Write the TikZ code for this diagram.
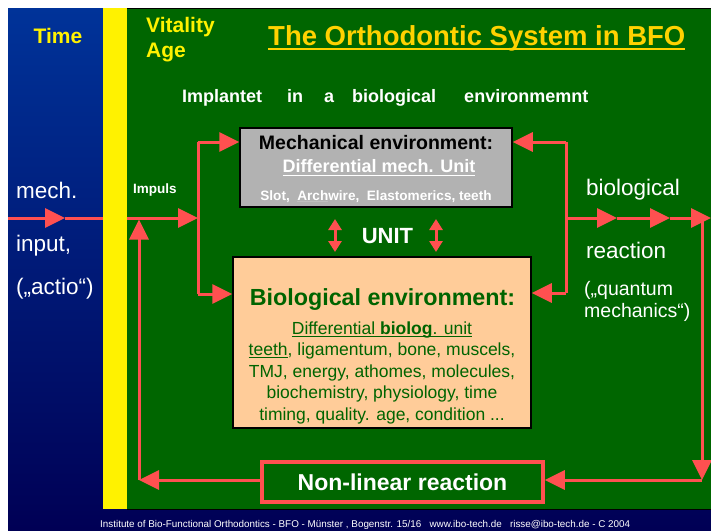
\documentclass[tikz,border=0pt]{standalone}
\usepackage{fontspec}
\setmainfont{Liberation Sans}
\usetikzlibrary{arrows.meta}
\definecolor{bgblue}{RGB}{0,51,153}
\definecolor{bgnavy}{RGB}{0,0,85}
\definecolor{bfogreen}{RGB}{0,102,0}
\definecolor{textgreen}{RGB}{0,100,0}
\definecolor{flowred}{RGB}{255,80,80}
\definecolor{mechgray}{RGB}{178,178,178}
\definecolor{biopeach}{RGB}{255,204,153}
\definecolor{titlegold}{RGB}{255,210,0}
\newcommand{\fsz}[1]{\fontsize{#1}{#1}\selectfont}
\newcommand{\ulin}[4][.]{\setbox0\hbox{#4}\rlap{\color{#1}\rule[-#2]{\wd0}{#3}}\box0}
\begin{document}
\begin{tikzpicture}[x=1pt,y=-1pt,
    flow/.style={draw=flowred,line width=3pt,-{Triangle[length=20pt,width=19pt]}},
    plain/.style={draw=flowred,line width=3pt},
    unitarrow/.style={draw=flowred,line width=3pt,{Triangle[length=11pt,width=13pt]}-{Triangle[length=11pt,width=13pt]}},
    lbl/.style={inner sep=0pt,anchor=base west,text=white},
    biotext/.style={lbl,anchor=base,text=textgreen,font=\fsz{17.5}}]
  \useasboundingbox (0,0) rectangle (711,530);
  \fill[white] (0,0) rectangle (711,530);
  \shade[top color=bgblue,bottom color=bgnavy] (8,8) rectangle (711,530);
  \fill[bfogreen] (127,8) rectangle (711,509);
  \draw[black] (127,8.5) -- (711,8.5);
  \draw[black] (127,509) -- (711,509);

  \node[lbl,text=yellow,font=\bfseries\fsz{21},anchor=base] (time) at (58,43) {Time};
  \node[lbl,text=yellow,font=\bfseries\fsz{21}] (vitality) at (146,32) {Vitality};
  \node[lbl,text=yellow,font=\bfseries\fsz{21}] (age) at (146,57) {Age};
  \node[lbl,text=titlegold,font=\bfseries\fsz{27.5}] (title) at (268,45)
    {\ulin{5.2pt}{2.3pt}{The Orthodontic System in BFO}};
  \node[lbl,font=\bfseries\fsz{18}] (implant) at (182,102)
    {Implantet\hspace{20pt} in\hspace{16pt} a\hspace{13pt} biological\hspace{23pt} environmemnt};

  \node[draw=black,line width=1.5pt,fill=mechgray,minimum width=272pt,minimum height=79pt,inner sep=0pt] (mech) at (376,167.5) {};
  \node[lbl,text=black,font=\bfseries\fsz{19.5},anchor=base] (mechtitle) at (376,149) {Mechanical environment:};
  \node[lbl,font=\bfseries\fsz{18},anchor=base] (mechunit) at (379,172.7) {\ulin{3.5pt}{1.5pt}{Differential mech. Unit}};
  \node[lbl,font=\bfseries\fsz{13.6},anchor=base] (mechparts) at (376,200)
    {Slot,\ \ \ulin[lightgray]{2pt}{1pt}{Arch}wire,\ \ Elastomerics, teeth};

  \node[lbl,font=\bfseries\fsz{22},anchor=base] (unit) at (387.5,243) {UNIT};

  \node[draw=black,line width=1.5pt,fill=biopeach,minimum width=298pt,minimum height=171pt,inner sep=0pt] (bio) at (382,342.5) {};
  \node[lbl,text=textgreen,font=\bfseries\fsz{23.3},anchor=base] (biotitle) at (382.5,305) {Biological environment:};
  \foreach \t [count=\i] in {{\ulin{3pt}{1.2pt}{Differential \textbf{biolog}. unit}},
      {\ulin{2.5pt}{1.2pt}{teeth}, ligamentum, bone, muscels,},
      {TMJ, energy, athomes, molecules,},
      {biochemistry, physiology, time},
      {timing, quality. age, condition {...}}}
    \node[biotext] (bio\i) at (382,{312.5+21.5*\i}) {\t};

  \node[draw=flowred,line width=3.5pt,fill=bfogreen,minimum width=281pt,minimum height=40pt,inner sep=0pt,
    text=white,font=\bfseries\fsz{23}] (nonlin) at (402.5,482) {Non-linear reaction};

  \node[lbl,font=\fsz{22.5}] (inmech) at (16,198) {mech.};
  \node[lbl,font=\fsz{22.5}] (ininput) at (16,251) {input,};
  \node[lbl,font=\fsz{22.5}] (inactio) at (16,294) {(„actio“)};
  \node[lbl,font=\fsz{22.5}] (outbio) at (586,195) {biological};
  \node[lbl,font=\fsz{22.5}] (outreact) at (586,258) {reaction};
  \node[lbl,font=\fsz{19.5}] (outquant) at (584,295) {(„quantum};
  \node[lbl,font=\fsz{19.5}] (outmech) at (584,317) {mechanics“)};
  \node[lbl,font=\bfseries\fsz{13.5}] (impuls) at (133,193) {Impuls};
  \node[lbl,font=\fsz{9.85}] (footer) at (100,527.5)
    {Institute of Bio-Functional Orthodontics - BFO - Münster , Bogenstr. 15/16\ \ \ www.ibo-tech.de\ \ \ risse@ibo-tech.de - C 2004};

  \coordinate (inL) at (8,218);
  \coordinate (inA) at (65,218);
  \coordinate (jl) at (198,218);
  \coordinate (jlt) at (198,142);
  \coordinate (jlb) at (198,294);
  \coordinate (jr) at (566,218);
  \coordinate (jrt) at (566,142);
  \coordinate (jrb) at (566,293);
  \coordinate (outA) at (617,218);
  \coordinate (outB) at (670,218);
  \coordinate (outC) at (711,218);
  \coordinate (rt) at (702,218);
  \coordinate (rb) at (702,480);
  \coordinate (lb) at (139,480);
  \coordinate (lt) at (139,219.5);
  \coordinate (ua1) at (335,219);
  \coordinate (ua2) at (335,252);
  \coordinate (ub1) at (436,219);
  \coordinate (ub2) at (436,252);

  \begin{scope}
    \draw[flow] (inL) -- (inA);
    \draw[flow] (inA) -- (jl);
    \draw[plain] (jlt) -- (jlb);
    \draw[flow] (jlt) -- (jlt -| mech.west);
    \draw[flow] (jlb) -- (jlb -| bio.west);
    \draw[plain] (jrt) -- (jrb);
    \draw[flow] (jrt) -- (jrt -| mech.east);
    \draw[flow] (jrb) -- (jrb -| bio.east);
    \draw[flow] (jr) -- (outA);
    \draw[flow] (outA) -- (outB);
    \draw[flow] (outB) -- (outC);
    \draw[flow] (rt) -- (rb);
    \draw[flow] (rb) -- (rb -| nonlin.east);
    \draw[flow] (nonlin.west |- lb) -- (lb);
    \draw[flow] (lb) -- (lt);
    \draw[unitarrow] (ua1) -- (ua2);
    \draw[unitarrow] (ub1) -- (ub2);
  \end{scope}
  \fill[yellow] (103,8) rectangle (127,509);
\end{tikzpicture}
\end{document}
